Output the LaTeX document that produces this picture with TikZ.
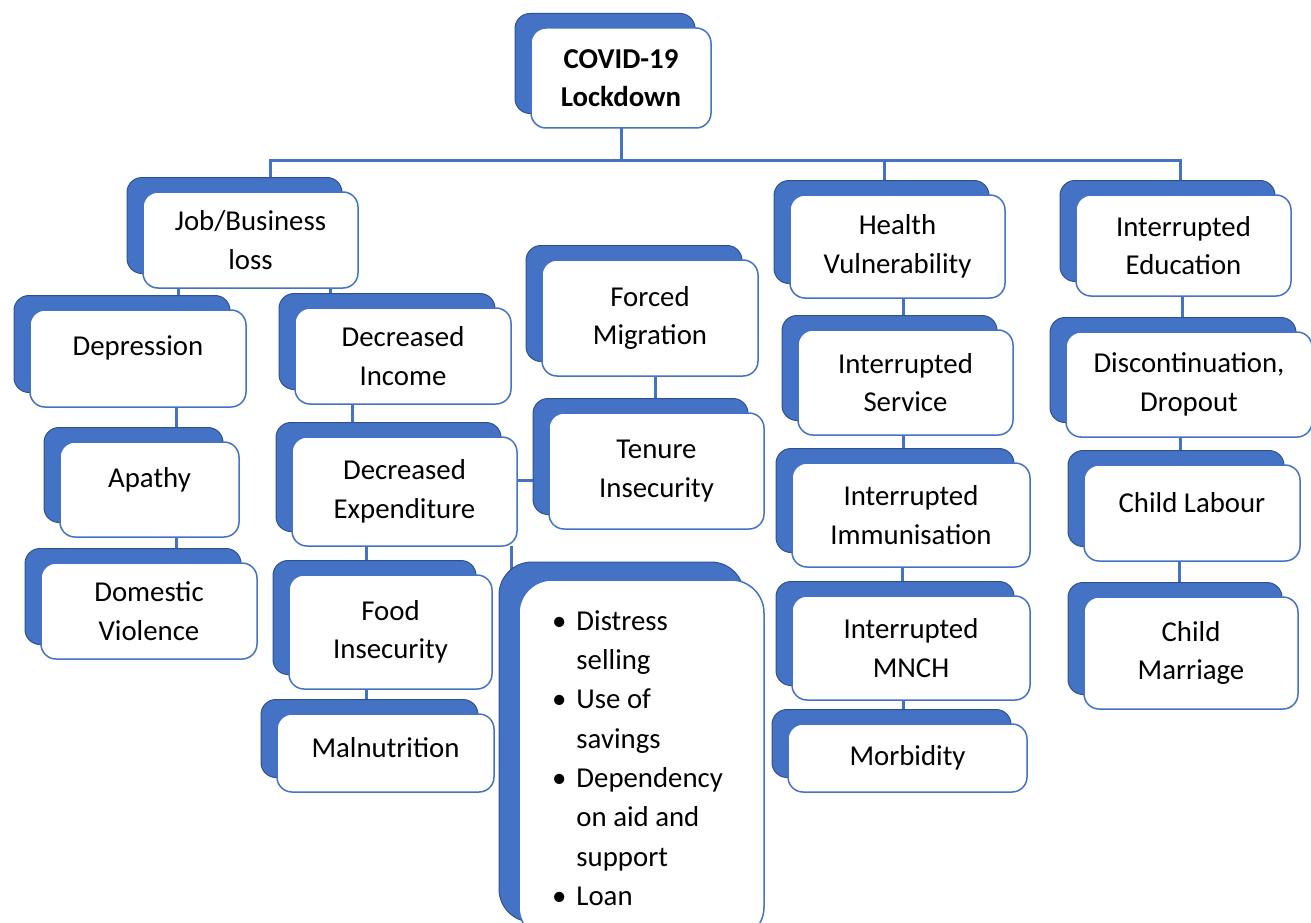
\documentclass[tikz,border=0pt]{standalone}
\usepackage{fontspec}
\setmainfont{Carlito}
\usetikzlibrary{positioning,shadows,backgrounds}

\definecolor{boxblue}{HTML}{4472C4}
\definecolor{boxdark}{HTML}{2F528F}

\begin{document}
\begin{tikzpicture}[
        x=1pt, y=1pt,
        node distance=28pt and 20pt,
        front/.style={draw=boxblue, line width=1.5pt, fill=white, align=center, inner sep=2pt, outer sep=0pt,
            font=\fontsize{28.8pt}{38.5pt}\selectfont},
        cause/.style={front, rounded corners=15pt,
            copy shadow={shadow xshift=-16pt, shadow yshift=14.5pt, fill=boxblue, draw=boxdark, line width=1pt}},
        listbox/.style={front, rounded corners=33pt,
            copy shadow={shadow xshift=-20pt, shadow yshift=18pt, fill=boxblue, draw=boxdark, line width=1pt}},
        boxsize/.style 2 args={minimum width=#1, minimum height=#2},
        lift/.style={text depth=#1},
        link/.style={draw=boxblue, line width=3pt}
    ]
    \useasboundingbox (0,0) rectangle (1311,-923);

    % Nodes
    \node (covid)[cause, boxsize={180pt}{100pt}, font=\fontsize{28.8pt}{38.5pt}\selectfont\bfseries] at (621,-78) {COVID-19\\Lockdown};

    \node (job)[cause, boxsize={215pt}{96pt}] at (250.5,-240) {Job/Business\\loss};
    \node (dep)[below=of job, cause, boxsize={216pt}{97pt}, lift=25pt, xshift=-112.5pt, yshift=6pt] {Depression};
    \node (apathy)[below=of dep, cause, boxsize={179pt}{95pt}, lift=25pt, xshift=11.5pt, yshift=-7pt] {Apathy};
    \node (domviol)[below=of apathy, cause, boxsize={216pt}{96pt}, xshift=-0.5pt, yshift=2pt] {Domestic\\Violence};

    \node (decinc)[below=of job, cause, boxsize={216pt}{96pt}, xshift=152.5pt, yshift=8pt] {Decreased\\Income};
    \node (decexp)[below=of decinc, cause, boxsize={225pt}{109pt}, xshift=1.5pt, yshift=-5pt] {Decreased\\Expenditure};
    \node (food)[below=of decexp, cause, boxsize={203pt}{114pt}, xshift=-14pt, yshift=-1pt] {Food\\Insecurity};
    \node (maln)[below=of food, cause, boxsize={217pt}{78pt}, lift=11pt, xshift=-5pt, yshift=3pt] {Malnutrition};

    \node (forced)[cause, boxsize={216pt}{116pt}] at (650,-318) {Forced\\Migration};
    \node (tenure)[below=of forced, cause, boxsize={215pt}{116pt}, xshift=6.5pt, yshift=-9pt] {Tenure\\Insecurity};
    \node (bullet)[listbox, anchor=north, boxsize={245pt}{360pt}, font=\fontsize{28.8pt}{39.3pt}\selectfont] at (641.5,-580) {%
        \begin{tabular}{@{}l@{\hspace{10pt}}l@{\hspace{8pt}}}
        \textbullet & Distress\\
                    & selling\\
        \textbullet & Use of\\
                    & savings\\
        \textbullet & Dependency\\
                    & on aid and\\
                    & support\\
        \textbullet & Loan
        \end{tabular}};

    \node (health)[cause, boxsize={215pt}{103pt}] at (897.5,-246.5) {Health\\Vulnerability};
    \node (service)[below=of health, cause, boxsize={215pt}{105pt}, xshift=8pt, yshift=-4pt] {Interrupted\\Service};
    \node (immun)[below=of service, cause, boxsize={238pt}{104pt}, xshift=5.5pt] {Interrupted\\Immunisation};
    \node (mnch)[below=of immun, cause, boxsize={238pt}{104pt}, yshift=-1pt] {Interrupted\\MNCH};
    \node (morb)[below=of mnch, cause, boxsize={239pt}{68pt}, xshift=-3.5pt, yshift=4pt] {Morbidity};

    \node (intedu)[cause, boxsize={215pt}{101pt}] at (1183.5,-245.5) {Interrupted\\Education};
    \node (discont)[below=of intedu, cause, boxsize={246pt}{105pt}, xshift=5.5pt, yshift=-8pt] {Discontinuation,\\Dropout};
    \node (childlab)[below=of discont, cause, boxsize={216pt}{96pt}, lift=22pt, xshift=3pt] {Child Labour};
    \node (childmar)[below=of childlab, cause, boxsize={214pt}{112pt}, xshift=-1pt, yshift=-8pt] {Child\\Marriage};

    % Edges
    \begin{scope}[on background layer]
    \draw[link] (covid.south) -- ++(0,-32) coordinate (bar);
    \draw[link] ([xshift=19.5pt]job.north) |- (bar);
    \draw[link] ([xshift=-13.5pt]health.north) |- (bar);
    \draw[link] ([xshift=-3.5pt]intedu.north) |- (bar);

    \draw[link] ([xshift=-72.5pt]job.south) |- (dep.north);
    \draw[link] ([xshift=38pt]dep.south) |- (apathy.north);
    \draw[link] ([xshift=26.5pt]apathy.south) |- (domviol.north);
    \draw[link] ([xshift=79.5pt]job.south) |- (decinc.north);
    \draw[link] ([xshift=-51pt]decinc.south) |- (decexp.north);
    \draw[link] ([xshift=-38.5pt]decexp.south) |- (food.north);
    \draw[link] ([xshift=-24.5pt]food.south) |- (maln.north);
    \draw[link] ([yshift=11.5pt]decexp.east) -| (tenure.west);
    \draw[link] ([xshift=106.5pt]decexp.south) |- (bullet.north);
    \draw[link] ([xshift=5pt]forced.south) |- (tenure.north);

    \draw[link] ([xshift=5.5pt]health.south) |- (service.north);
    \draw[link] ([xshift=-2.5pt]service.south) |- (immun.north);
    \draw[link] ([xshift=-9pt]immun.south) |- (mnch.north);
    \draw[link] ([xshift=-8pt]mnch.south) |- (morb.north);

    \draw[link] ([xshift=-1.5pt]intedu.south) |- (discont.north);
    \draw[link] ([xshift=-9pt]discont.south) |- (childlab.north);
    \draw[link] ([xshift=-13pt]childlab.south) |- (childmar.north);
    \end{scope}

\end{tikzpicture}
\end{document}
